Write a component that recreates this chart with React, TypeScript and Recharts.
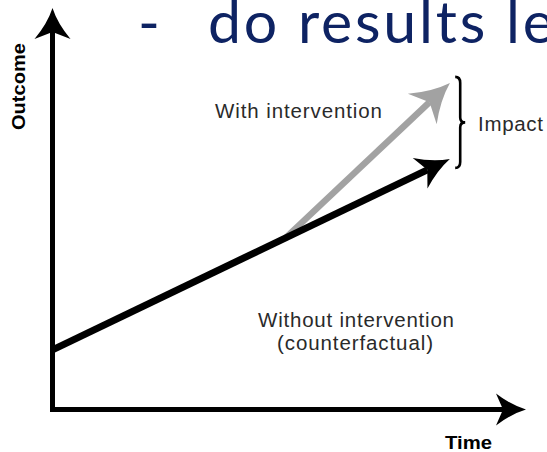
import React from 'react';
import { LineChart, Line, XAxis, YAxis, ReferenceLine } from 'recharts';

// Conceptual data (Time 0-100, Outcome 0-100)
const timeWithout = [0, 83.2];
const outcomeWithout = [15.8, 63.5];
const timeWith = [51.6, 83.7];
const outcomeWith = [45.3, 81.4];
const impactTime = 90.5;
const impactRange = [88.1, 64.0];
const axisTime = [0, 100];
const axisOutcome = [0, 100];

const titleDash = '-';
const titleText = 'do results le';
const xLabel = 'Time';
const yLabel = 'Outcome';
const withLabel = 'With intervention';
const withoutLabel1 = 'Without intervention';
const withoutLabel2 = '(counterfactual)';
const impactLabel = 'Impact';

const withoutData = timeWithout.map((t, i) => ({ x: t, y: outcomeWithout[i] }));
const withData = timeWith.map((t, i) => ({ x: t, y: outcomeWith[i] }));

const arrowPath = (L: number, W: number, n: number) =>
  `M0,0 Q${-L * 0.5},${-W * 0.28} ${-L},${-W} L${-L + n},0 L${-L},${W} Q${-L * 0.5},${W * 0.28} 0,0 Z`;

const Marker = ({ id, L, W, n, color }: any) => (
  <marker
    id={id}
    markerUnits="userSpaceOnUse"
    markerWidth={1}
    markerHeight={1}
    refX={-L + n}
    refY={0}
    orient="auto"
    overflow="visible"
    style={{ overflow: 'visible' }}
  >
    <path d={arrowPath(L, W, n)} fill={color} />
  </marker>
);

const Brace = (props: any) => {
  const { x1, y1, y2 } = props;
  const top = Math.min(y1, y2);
  const bot = Math.max(y1, y2);
  const mid = (top + bot) / 2;
  const x = x1;
  const d = `M${x - 5},${top} Q${x},${top} ${x},${top + 6} L${x},${mid - 5} Q${x},${mid} ${x + 5},${mid} Q${x},${mid} ${x},${mid + 5} L${x},${bot - 6} Q${x},${bot} ${x - 5},${bot}`;
  return <path d={d} fill="none" stroke="#000" strokeWidth={2.6} />;
};

const axisShape = (markerId: string) => (props: any) => {
  const { x1, y1, x2, y2 } = props;
  return (
    <line
      x1={x1}
      y1={y1}
      x2={x2}
      y2={y2}
      stroke="#000"
      strokeWidth={5}
      strokeLinecap="square"
      markerEnd={`url(#${markerId})`}
    />
  );
};

const textFont = '"Liberation Sans", Arial, sans-serif';

export default function App() {
  return (
    <div style={{ position: 'absolute', left: 0, top: 0, width: 547, height: 452, background: '#fff', overflow: 'hidden' }}>
      <svg width={0} height={0} style={{ position: 'absolute' }}>
        <defs>
          <Marker id="axArrowX" L={30} W={16} n={7} color="#000" />
          <Marker id="axArrowY" L={31} W={18} n={7} color="#000" />
          <Marker id="blackArrow" L={33} W={17} n={8} color="#000" />
          <Marker id="grayArrow" L={38} W={21} n={10} color="#a2a2a2" />
        </defs>
      </svg>
      <LineChart
        width={547}
        height={452}
        margin={{ top: 32, right: 44, bottom: 42.5, left: 52.5 }}
      >
        <XAxis type="number" dataKey="x" domain={[0, 100]} hide />
        <YAxis type="number" dataKey="y" domain={[0, 100]} hide />
        <ReferenceLine
          segment={[{ x: axisTime[0], y: axisOutcome[0] }, { x: axisTime[1], y: axisOutcome[0] }]}
          shape={axisShape('axArrowX')}
          ifOverflow="visible"
        />
        <ReferenceLine
          segment={[{ x: axisTime[0], y: axisOutcome[0] }, { x: axisTime[0], y: axisOutcome[1] }]}
          shape={axisShape('axArrowY')}
          ifOverflow="visible"
        />
        <Line
          data={withData}
          dataKey="y"
          type="linear"
          stroke="#a2a2a2"
          strokeWidth={6.5}
          dot={false}
          activeDot={false}
          isAnimationActive={false}
          {...({ markerEnd: 'url(#grayArrow)' } as any)}
        />
        <Line
          data={withoutData}
          dataKey="y"
          type="linear"
          stroke="#000"
          strokeWidth={7}
          dot={false}
          activeDot={false}
          isAnimationActive={false}
          {...({ markerEnd: 'url(#blackArrow)' } as any)}
        />
        <ReferenceLine
          segment={[{ x: impactTime, y: impactRange[0] }, { x: impactTime, y: impactRange[1] }]}
          shape={Brace}
          ifOverflow="visible"
        />
        <text x={138} y={43} fill="#0e2363" fontFamily='Lato, "Open Sans", sans-serif' fontSize={59}>{titleDash}</text>
        <text x={208} y={43} fill="#0e2363" fontFamily='Lato, "Open Sans", sans-serif' fontSize={59} letterSpacing={2.8}>{titleText}</text>
        <text transform="translate(25,86.5) rotate(-90)" x={0} y={0} textAnchor="middle" fontFamily={textFont} fontWeight="bold" fontSize={18} fill="#000" textLength={87} lengthAdjust="spacingAndGlyphs">{yLabel}</text>
        <text x={445} y={449} fontFamily={textFont} fontWeight="bold" fontSize={18} fill="#000" textLength={47} lengthAdjust="spacingAndGlyphs">{xLabel}</text>
        <text x={215} y={118} fontFamily={textFont} fontSize={20.5} fill="#2a2a2a" textLength={167} lengthAdjust="spacing">{withLabel}</text>
        <text x={478} y={131} fontFamily={textFont} fontSize={20.5} fill="#2a2a2a" textLength={65} lengthAdjust="spacing">{impactLabel}</text>
        <text x={258} y={327} fontFamily={textFont} fontSize={20.5} fill="#2a2a2a" textLength={196} lengthAdjust="spacing">{withoutLabel1}</text>
        <text x={277} y={350} fontFamily={textFont} fontSize={20.5} fill="#2a2a2a" textLength={156} lengthAdjust="spacing">{withoutLabel2}</text>
      </LineChart>
    </div>
  );
}
